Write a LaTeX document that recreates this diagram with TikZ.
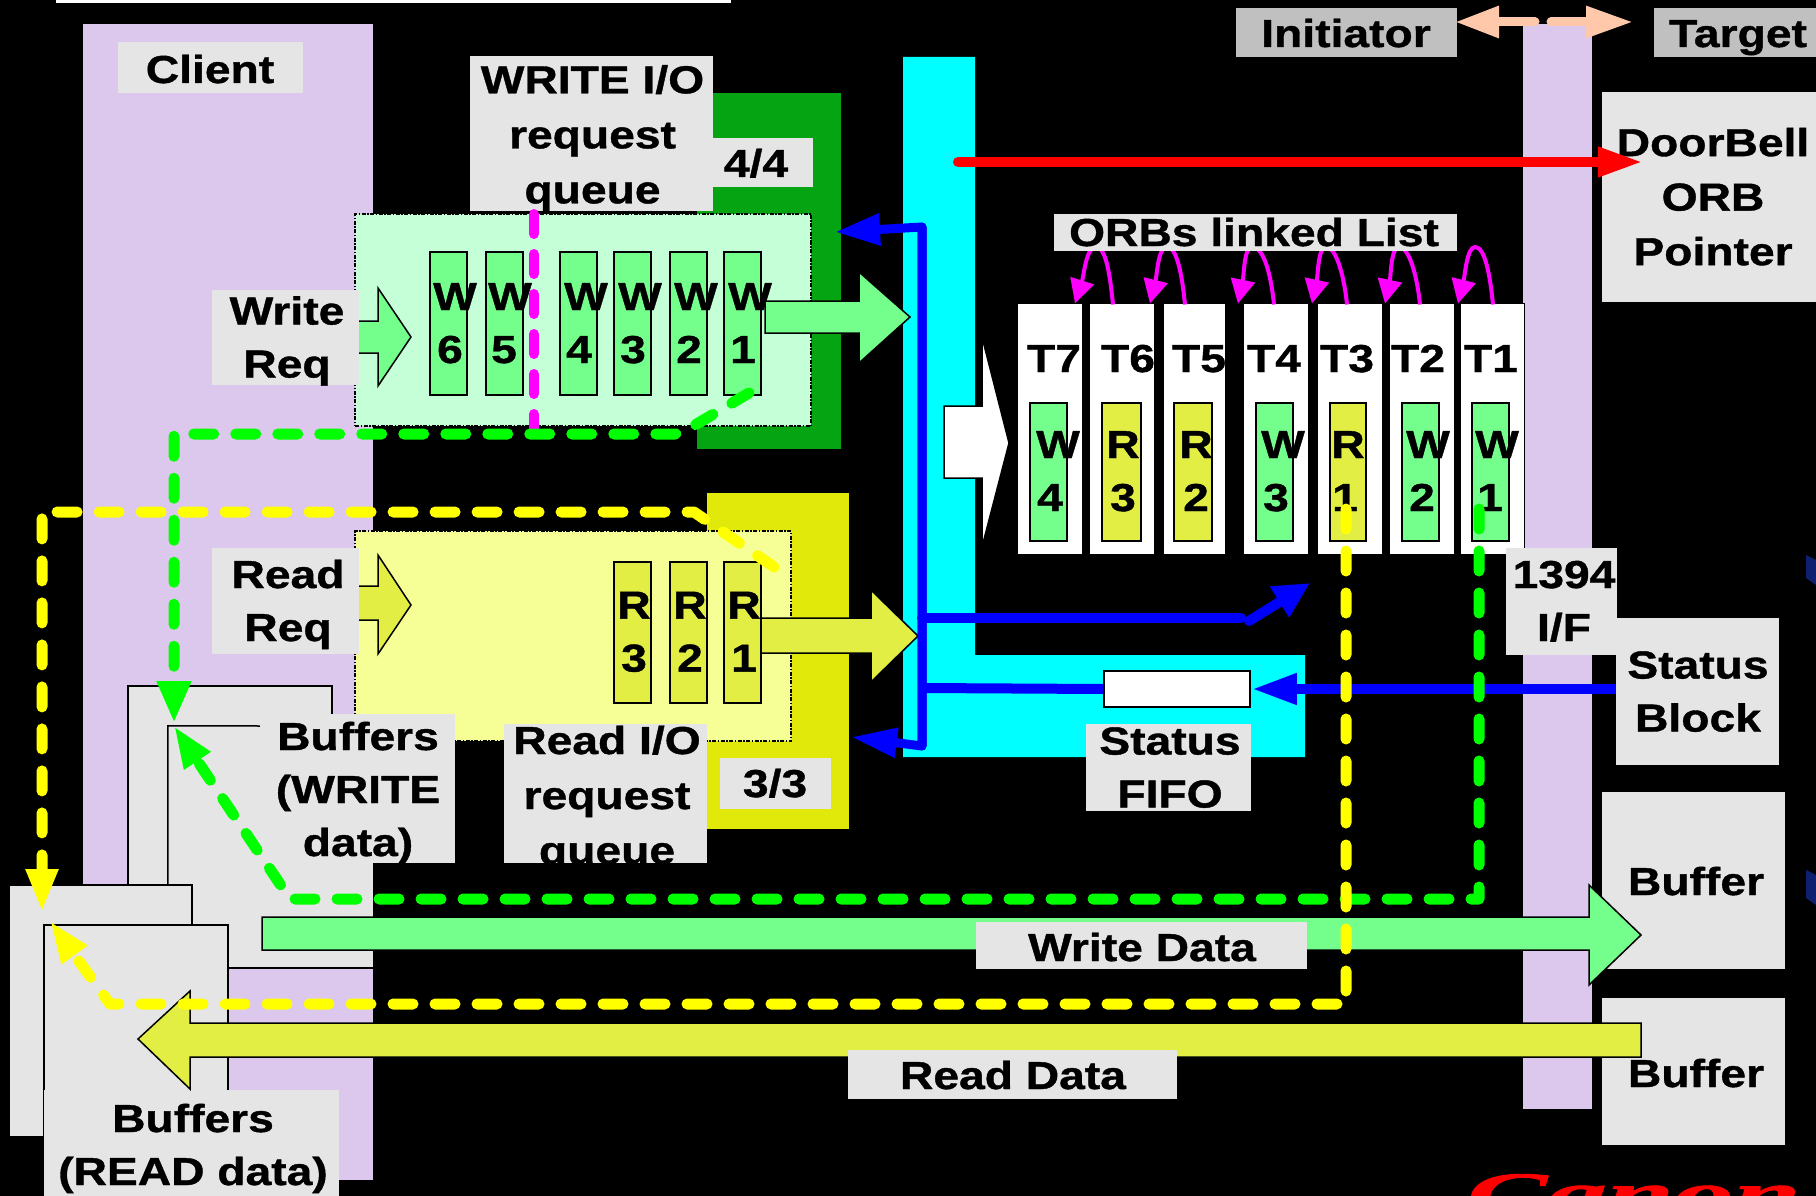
\documentclass[tikz,border=0pt]{standalone}
\usepackage{fontspec}
\usetikzlibrary{arrows.meta}
\newfontfamily\lf[FakeStretch=1.185,BoldFeatures={FakeBold=1}]{Liberation Sans}
\newfontfamily\cf[FakeStretch=2,BoldItalicFeatures={FakeBold=1.5}]{Liberation Serif}
\definecolor{labgray}{HTML}{E5E5E5}
\definecolor{labdark}{HTML}{C0C0C0}
\definecolor{lav}{HTML}{DCC8EC}
\definecolor{wgreen}{HTML}{74FF8C}
\definecolor{ryel}{HTML}{E2EE44}
\definecolor{wframe}{HTML}{04A412}
\definecolor{rframe}{HTML}{E1E90A}
\definecolor{wpanel}{HTML}{C4FFD8}
\definecolor{rpanel}{HTML}{F5FF96}
\definecolor{peach}{HTML}{FFC8AA}
\definecolor{navy}{HTML}{0F2070}
\definecolor{flowgreen}{HTML}{00FF00}
\definecolor{flowyellow}{HTML}{FFFF00}
\definecolor{flowmag}{HTML}{FF00FF}
\definecolor{busblue}{HTML}{0000FF}
\definecolor{fifocyan}{HTML}{00FFFF}
\definecolor{doorred}{HTML}{FF0000}
\tikzset{
  lblbox/.style={fill=labgray},
  darkbox/.style={fill=labdark},
  wcell/.style={fill=wgreen,draw=black,line width=1.5pt},
  rcell/.style={fill=ryel,draw=black,line width=1.5pt},
  tcell/.style={fill=white,draw=black,line width=1pt},
  bufbox/.style={fill=labgray,draw=black,line width=1.5pt},
  panelw/.style={fill=wpanel,draw=black,line width=1.5pt,dash pattern=on 4pt off 1.5pt on 1.5pt off 1.5pt},
  panelr/.style={fill=rpanel,draw=black,line width=1.5pt,dash pattern=on 4pt off 1.5pt on 1.5pt off 1.5pt},
  txt/.style={font=\lf\bfseries\fontsize{39}{53}\selectfont,text=black,align=center,inner sep=0pt},
  bigarrow/.style={draw=black,line width=1.5pt,line join=miter},
  bluearrow/.style={draw=busblue,line width=9pt,line join=round},
  flowg/.style={draw=flowgreen,line width=11pt,line cap=round,line join=round,dash pattern=on 20pt off 22pt},
  flowy/.style={draw=flowyellow,line width=11pt,line cap=round,line join=round,dash pattern=on 20pt off 22pt},
  maglink/.style={draw=flowmag,line width=4pt,-{Triangle[length=24pt,width=24pt]}},
}
% box and its text: [style]{name}{x0}{y0}{x1}{y1}{text x}{text centre y}{text}
\newcommand\lab[9][lblbox]{%
  \node[#1,inner sep=0pt,minimum width={(#5-#3)*1pt},minimum height={(#6-#4)*1pt}] (#2) at ({(#3+#5)/2},{(#4+#6)/2}) {};
  \node[txt] (#2t) at (#7,#8) {#9};
}
\newcommand\sr{\strut}
\begin{document}
\begin{tikzpicture}[x=1pt,y=-1pt]
\useasboundingbox (0,0) rectangle (1816,1196);
\fill[black] (0,0) rectangle (1816,1196);
\begin{scope}
\clip (0,0) rectangle (1816,1196);
\fill[white] (56,0) rectangle (731,3);
\fill[navy] (1806,555) -- (1816,560) -- (1816,585) -- (1806,578) -- cycle;
\fill[navy] (1806,870) -- (1816,875) -- (1816,905) -- (1806,898) -- cycle;
\node[anchor=base west,inner sep=0pt,text=doorred,font=\cf\bfseries\itshape\fontsize{60}{60}\selectfont] (canon) at (1467,1214) {Canon};

% buses
\fill[lav] (83,24) rectangle (373,1180);
\fill[lav] (1523,24) rectangle (1592,1109);

% frames and panels
\fill[wframe] (697,93) rectangle (841,449);
\fill[rframe] (707,493) rectangle (849,829);
\node[panelw,inner sep=0pt,minimum width=456pt,minimum height=212pt] (wpanel) at (583,320) {};
\node[panelr,inner sep=0pt,minimum width=436pt,minimum height=210pt] (rpanel) at (573,636) {};

% cyan L
\fill[fifocyan] (903,57) -- (975,57) -- (975,655) -- (1305,655) -- (1305,757) -- (903,757) -- cycle;

% peach arrows
\draw[draw=peach,line width=9pt,line cap=round,-{Triangle[length=44pt,width=30pt]}] (1535,22) -- (1455,22);
\draw[draw=peach,line width=9pt,line cap=round,-{Triangle[length=47pt,width=30pt]}] (1551,22) -- (1633,22);

% small request arrows
\draw[bigarrow,fill=wgreen] (340,321) -- (378,321) -- (378,288) -- (411,337) -- (378,386) -- (378,353) -- (340,353) -- cycle;
\draw[bigarrow,fill=ryel] (340,586) -- (378,586) -- (378,555) -- (411,605) -- (378,654) -- (378,620) -- (340,620) -- cycle;

% write cells
\lab[wcell]{w6}{430}{252}{467}{395}{455}{325.9}{\sr W\\\sr 6\kern10pt}
\lab[wcell]{w5}{486}{252}{523}{395}{510}{325.9}{\sr W\\\sr 5\kern12pt}
\lab[wcell]{w4}{560}{252}{597}{395}{586}{325.9}{\sr W\\\sr 4\kern14pt}
\lab[wcell]{w3}{614}{252}{651}{395}{640}{325.9}{\sr W\\\sr 3\kern14pt}
\lab[wcell]{w2}{670}{252}{707}{395}{696}{325.9}{\sr W\\\sr 2\kern14pt}
\lab[wcell]{w1}{724}{252}{761}{395}{750}{325.9}{\sr W\\\sr 1\kern14pt}
% read cells
\lab[rcell]{r3}{614}{562}{651}{703}{634}{634.5}{\sr R\\\sr 3}
\lab[rcell]{r2}{670}{562}{707}{703}{690}{634.5}{\sr R\\\sr 2}
\lab[rcell]{r1}{724}{562}{761}{703}{744}{634.5}{\sr R\\\sr 1}

% big outgoing arrows
\draw[bigarrow,fill=wgreen] (765,301) -- (859,301) -- (859,272) -- (910,317) -- (859,363) -- (859,333) -- (765,333) -- cycle;
\draw[bigarrow,fill=ryel] (761,618) -- (871,618) -- (871,590) -- (918,636) -- (871,682) -- (871,653) -- (761,653) -- cycle;
\draw[bigarrow,fill=white] (944,406) -- (982,406) -- (982,337) -- (1009,443) -- (982,547) -- (982,478) -- (944,478) -- cycle;

% ORB boxes
\lab[tcell]{t7}{1017}{303}{1082}{554}{1054}{361.4}{\sr T7}
\lab[tcell]{t6}{1089}{303}{1154}{554}{1128}{361.4}{\sr T6}
\lab[tcell]{t5}{1163}{303}{1225}{554}{1199}{361.4}{\sr T5}
\lab[tcell]{t4}{1243}{303}{1308}{554}{1274}{361.4}{\sr T4}
\lab[tcell]{t3}{1317}{303}{1382}{554}{1347}{361.4}{\sr T3}
\lab[tcell]{t2}{1389}{303}{1454}{554}{1418}{361.4}{\sr T2}
\lab[tcell]{t1}{1460}{303}{1524}{554}{1491}{361.4}{\sr T1}
\lab[wcell]{o7}{1030}{403}{1067}{541}{1058}{473.9}{\sr W\\\sr 4\kern16pt}
\lab[rcell]{o6}{1102}{403}{1141}{541}{1123}{473.9}{\sr R\\\sr 3}
\lab[rcell]{o5}{1174}{403}{1212}{541}{1196}{473.9}{\sr R\\\sr 2}
\lab[wcell]{o4}{1256}{403}{1293}{541}{1283}{473.9}{\sr W\\\sr 3\kern14pt}
\lab[rcell]{o3}{1330}{403}{1366}{541}{1348}{473.9}{\sr R\\\sr 1\kern6pt}
\lab[wcell]{o2}{1402}{403}{1439}{541}{1428}{473.9}{\sr W\\\sr 2\kern12pt}
\lab[wcell]{o1}{1472}{403}{1509}{541}{1497}{473.9}{\sr W\\\sr 1\kern14pt}

% ORB links
\draw[maglink] ([xshift=-8.5pt,yshift=-2pt]t6.north) .. controls (1110,275) and (1106,247) .. (1096,247) .. controls (1086,247) and (1084,275) .. ([xshift=25.5pt,yshift=-1pt]t7.north);
\draw[maglink] ([xshift=-9pt,yshift=-2pt]t5.north) .. controls (1182,275) and (1177,247) .. (1167,247) .. controls (1158,247) and (1157,275) .. ([xshift=28.5pt,yshift=-1pt]t6.north);
\draw[maglink] ([xshift=-1.5pt,yshift=-2pt]t4.north) .. controls (1271,275) and (1264,247) .. (1252,247) .. controls (1244,247) and (1244,275) .. ([xshift=44pt,yshift=-1pt]t5.north);
\draw[maglink] ([xshift=-2.5pt,yshift=-2pt]t3.north) .. controls (1344,275) and (1336,247) .. (1326,247) .. controls (1318,247) and (1318,275) .. ([xshift=36.5pt,yshift=-1pt]t4.north);
\draw[maglink] ([xshift=-1.5pt,yshift=-2pt]t2.north) .. controls (1417,275) and (1409,247) .. (1399,247) .. controls (1391,247) and (1391,275) .. ([xshift=35.5pt,yshift=-1pt]t3.north);
\draw[maglink] ([xshift=1pt,yshift=-2pt]t1.north) .. controls (1490,275) and (1485,247) .. (1475,247) .. controls (1467,247) and (1465,275) .. ([xshift=36.5pt,yshift=-1pt]t2.north);

% buffer stacks
\node[bufbox,inner sep=0pt,minimum width=204pt,minimum height=239pt] (bufw1) at (230,805.5) {};
\node[fill=labgray,inner sep=0pt,minimum width=205pt,minimum height=242pt] (bufw2) at (270.5,847) {};
\draw[black,line width=1.5pt] (bufw2.south west) -- (bufw2.north west) -- (260,726);
\draw[black,line width=1.5pt] (bufw2.south west) -- (bufw2.south east);
\node[bufbox,inner sep=0pt,minimum width=183pt,minimum height=252pt] (bufr1) at (100.5,1011) {};
\node[bufbox,inner sep=0pt,minimum width=184pt,minimum height=271pt] (bufr2) at (136,1060.5) {};

% fifo
\node[fill=white,draw=black,line width=1.5pt,inner sep=0pt,minimum width=146pt,minimum height=36pt] (fifo) at (1177,689) {};

% labels
\lab{client}{118}{42}{303}{93}{210}{72.4}{\sr Client}
\lab{wreq}{212}{290}{359}{385}{287}{340.4}{\sr Write\\\sr Req}
\lab{rreq}{212}{548}{359}{654}{288}{603.9}{\sr Read\\\sr Req}
\lab{wq}{470}{56}{713}{211}{592.5}{137.7}{\sr WRITE I/O\\[2pt]\sr request\\[2pt]\sr queue}
\lab{wn}{713}{138}{813}{187}{756}{166.4}{\sr 4/4}
\lab{rn}{720}{758}{831}{809}{775}{786.4}{\sr 3/3}
\begin{scope}
\clip (504,724) rectangle (707,863);
\lab{rq}{504}{724}{707}{863}{607}{798.4}{\sr Read I/O\\[2pt]\sr request\\[2pt]\sr queue}
\end{scope}
\lab{wbuf}{260}{714}{455}{863}{358}{792.4}{\sr Buffers\\\sr (WRITE\\\sr data)}
\lab{rbuf}{44}{1090}{339}{1196}{193}{1147.9}{\sr Buffers\\\sr (READ data)}
\lab{orbs}{1054}{214}{1457}{251}{1254}{235.4}{\sr ORBs linked List}
\lab[darkbox]{init}{1236}{8}{1457}{57}{1346}{36.4}{\sr Initiator}
\lab[darkbox]{targ}{1654}{8}{1816}{57}{1738}{36.4}{\sr Target}
\lab{door}{1602}{92}{1816}{302}{1713}{200}{\sr DoorBell\\[1.5pt]\sr ORB\\[1.5pt]\sr Pointer}
\lab{ifl}{1506}{548}{1617}{655}{1564}{603.9}{\sr 1394\\\sr I/F}
\lab{stat}{1616}{618}{1779}{765}{1698}{694.4}{\sr Status\\\sr Block}
\lab{sfifo}{1086}{724}{1251}{811}{1170}{770.4}{\sr Status\\\sr FIFO}
\lab{buf1}{1602}{792}{1785}{969}{1696}{884.4}{\sr Buffer}
\lab{buf2}{1602}{998}{1785}{1145}{1696}{1076.4}{\sr Buffer}

% data arrows
\draw[bigarrow,fill=wgreen] (262,917) -- (1589,917) -- (1589,885) -- (1641,935) -- (1589,985) -- (1589,950) -- (262,950) -- cycle;
\draw[bigarrow,fill=ryel] (1641,1023) -- (190,1023) -- (190,991) -- (138,1039) -- (190,1089) -- (190,1057) -- (1641,1057) -- cycle;
\lab{wdata}{976}{922}{1307}{969}{1142}{950.4}{\sr Write Data}
\lab{rdata}{848}{1050}{1177}{1099}{1013}{1078.4}{\sr Read Data}

% blue control lines
\coordinate (bluetop) at (922,227);
\coordinate (bluebot) at (922,746);
\coordinate (bluejoin) at (922,618);
\coordinate (bluediag) at (1249,621);
\coordinate (bluedtip) at (1310,583);
\coordinate (fifoin) at (922,688);
\draw[bluearrow,line cap=round,-{Triangle[length=45pt,width=30pt]}] (bluebot) -- (bluetop) -- (835,232);
\draw[bluearrow,line cap=round,-{Triangle[length=46pt,width=28pt]}] (bluetop) -- (bluebot) -- (851,737);
\draw[bluearrow,line width=10pt,line cap=round] (bluejoin) -- (1241,618);
\draw[bluearrow,line width=10pt,line cap=round,-{Triangle[length=36pt,width=34pt]}] (bluediag) -- (bluedtip);
\draw[bluearrow,line width=10pt] (fifoin) -- (fifo.west);
\draw[bluearrow,line width=10pt,-{Triangle[length=45pt,width=29pt]}] (stat.west |- fifo.east) -- ([xshift=1pt]fifo.east);

% doorbell
\coordinate (doorfrom) at (958,162);
\draw[draw=doorred,line width=10pt,line cap=round,-{Triangle[length=45pt,width=28pt]}] (doorfrom) -- ([xshift=41pt]door.west |- doorfrom);

% queue pointers and flows
\coordinate (qa) at (534,214);
\coordinate (qb) at (534,432);
\draw[draw=flowmag,line width=10pt,line cap=round,dash pattern=on 20pt off 20pt] (qa) -- (qb);

\coordinate (ga) at (749,393);
\coordinate (gtip) at (174,723);
\draw[flowg,-{Triangle[length=42pt,width=32pt]}] (ga) -- (690,428) -- (675,434) -- (174,434) -- (gtip);
\coordinate (gb) at (1479,509);
\coordinate (gtipb) at (174,726);
\draw[flowg,-{Triangle[length=42pt,width=29pt]}] (gb) -- (1479,899) -- (290,899) -- (gtipb);

\coordinate (ya) at (774,567);
\coordinate (ytip) at (42,912);
\draw[flowy,-{Triangle[length=43pt,width=30pt]}] (ya) -- (694,512) -- (42,512) -- (ytip);
\coordinate (yb) at (1346,509);
\coordinate (ytipb) at (50,921);
\draw[flowy,-{Triangle[length=42pt,width=29pt]}] (yb) -- (1346,1004) -- (110,1004) -- (ytipb);
\end{scope}
\end{tikzpicture}
\end{document}
